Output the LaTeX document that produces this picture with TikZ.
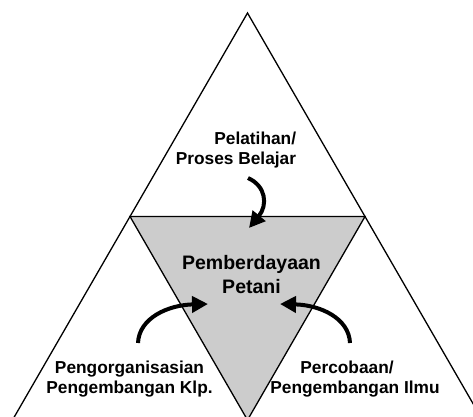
\documentclass[tikz,border=0pt]{standalone}
\usepackage{fontspec}
\setmainfont{Liberation Sans}
\usetikzlibrary{arrows.meta}
\begin{document}
\begin{tikzpicture}[x=1pt,y=-1pt,
  lbl/.style={font=\fontsize{17.3}{20}\selectfont\bfseries, inner sep=0pt, anchor=base},
  ctr/.style={font=\fontsize{19.5}{24}\selectfont\bfseries, inner sep=0pt, anchor=base, align=center},
  bendarrow/.style={line width=4pt, -{Triangle[length=16pt,width=16pt]}},
  tri/.style={line width=1.3pt, line join=miter}]
\useasboundingbox (0,0) rectangle (473,416);
\clip (0,0) rectangle (473,416);
\coordinate (A) at (247.5,13);
\coordinate (BL) at (12.5,420);
\coordinate (BR) at (482.5,420);
\coordinate (ML) at (130,216.5);
\coordinate (MR) at (365,216.5);
\coordinate (MB) at (247.5,420);
\filldraw[tri, fill=gray!40] (ML) -- (MR) -- (MB) -- cycle;
\draw[tri] (A) -- (BR) -- (BL) -- cycle;
\node[lbl, align=right] (top) at (236,164) {Pelatihan/\\Proses Belajar};
\node[ctr] (mid) at (251.5,293) {Pemberdayaan\\Petani};
\node[lbl, align=center] (left) at (129.5,393) {Pengorganisasian\\Pengembangan Klp.};
\node[lbl, align=center] (right) at (355,393) {Percobaan/\hspace*{16pt}\\Pengembangan Ilmu};
\coordinate (t1) at (248,178);
\coordinate (t2) at (249,228);
\coordinate (l1) at (138,343);
\coordinate (l2) at (208,304);
\coordinate (r1) at (350,343);
\coordinate (r2) at (280,304);
\draw[bendarrow] (t1) .. controls (266,186) and (268,205) .. (t2);
\draw[bendarrow] (l1) .. controls (139,318) and (168,305) .. (l2);
\draw[bendarrow] (r1) .. controls (349,318) and (320,305) .. (r2);
\end{tikzpicture}
\end{document}
